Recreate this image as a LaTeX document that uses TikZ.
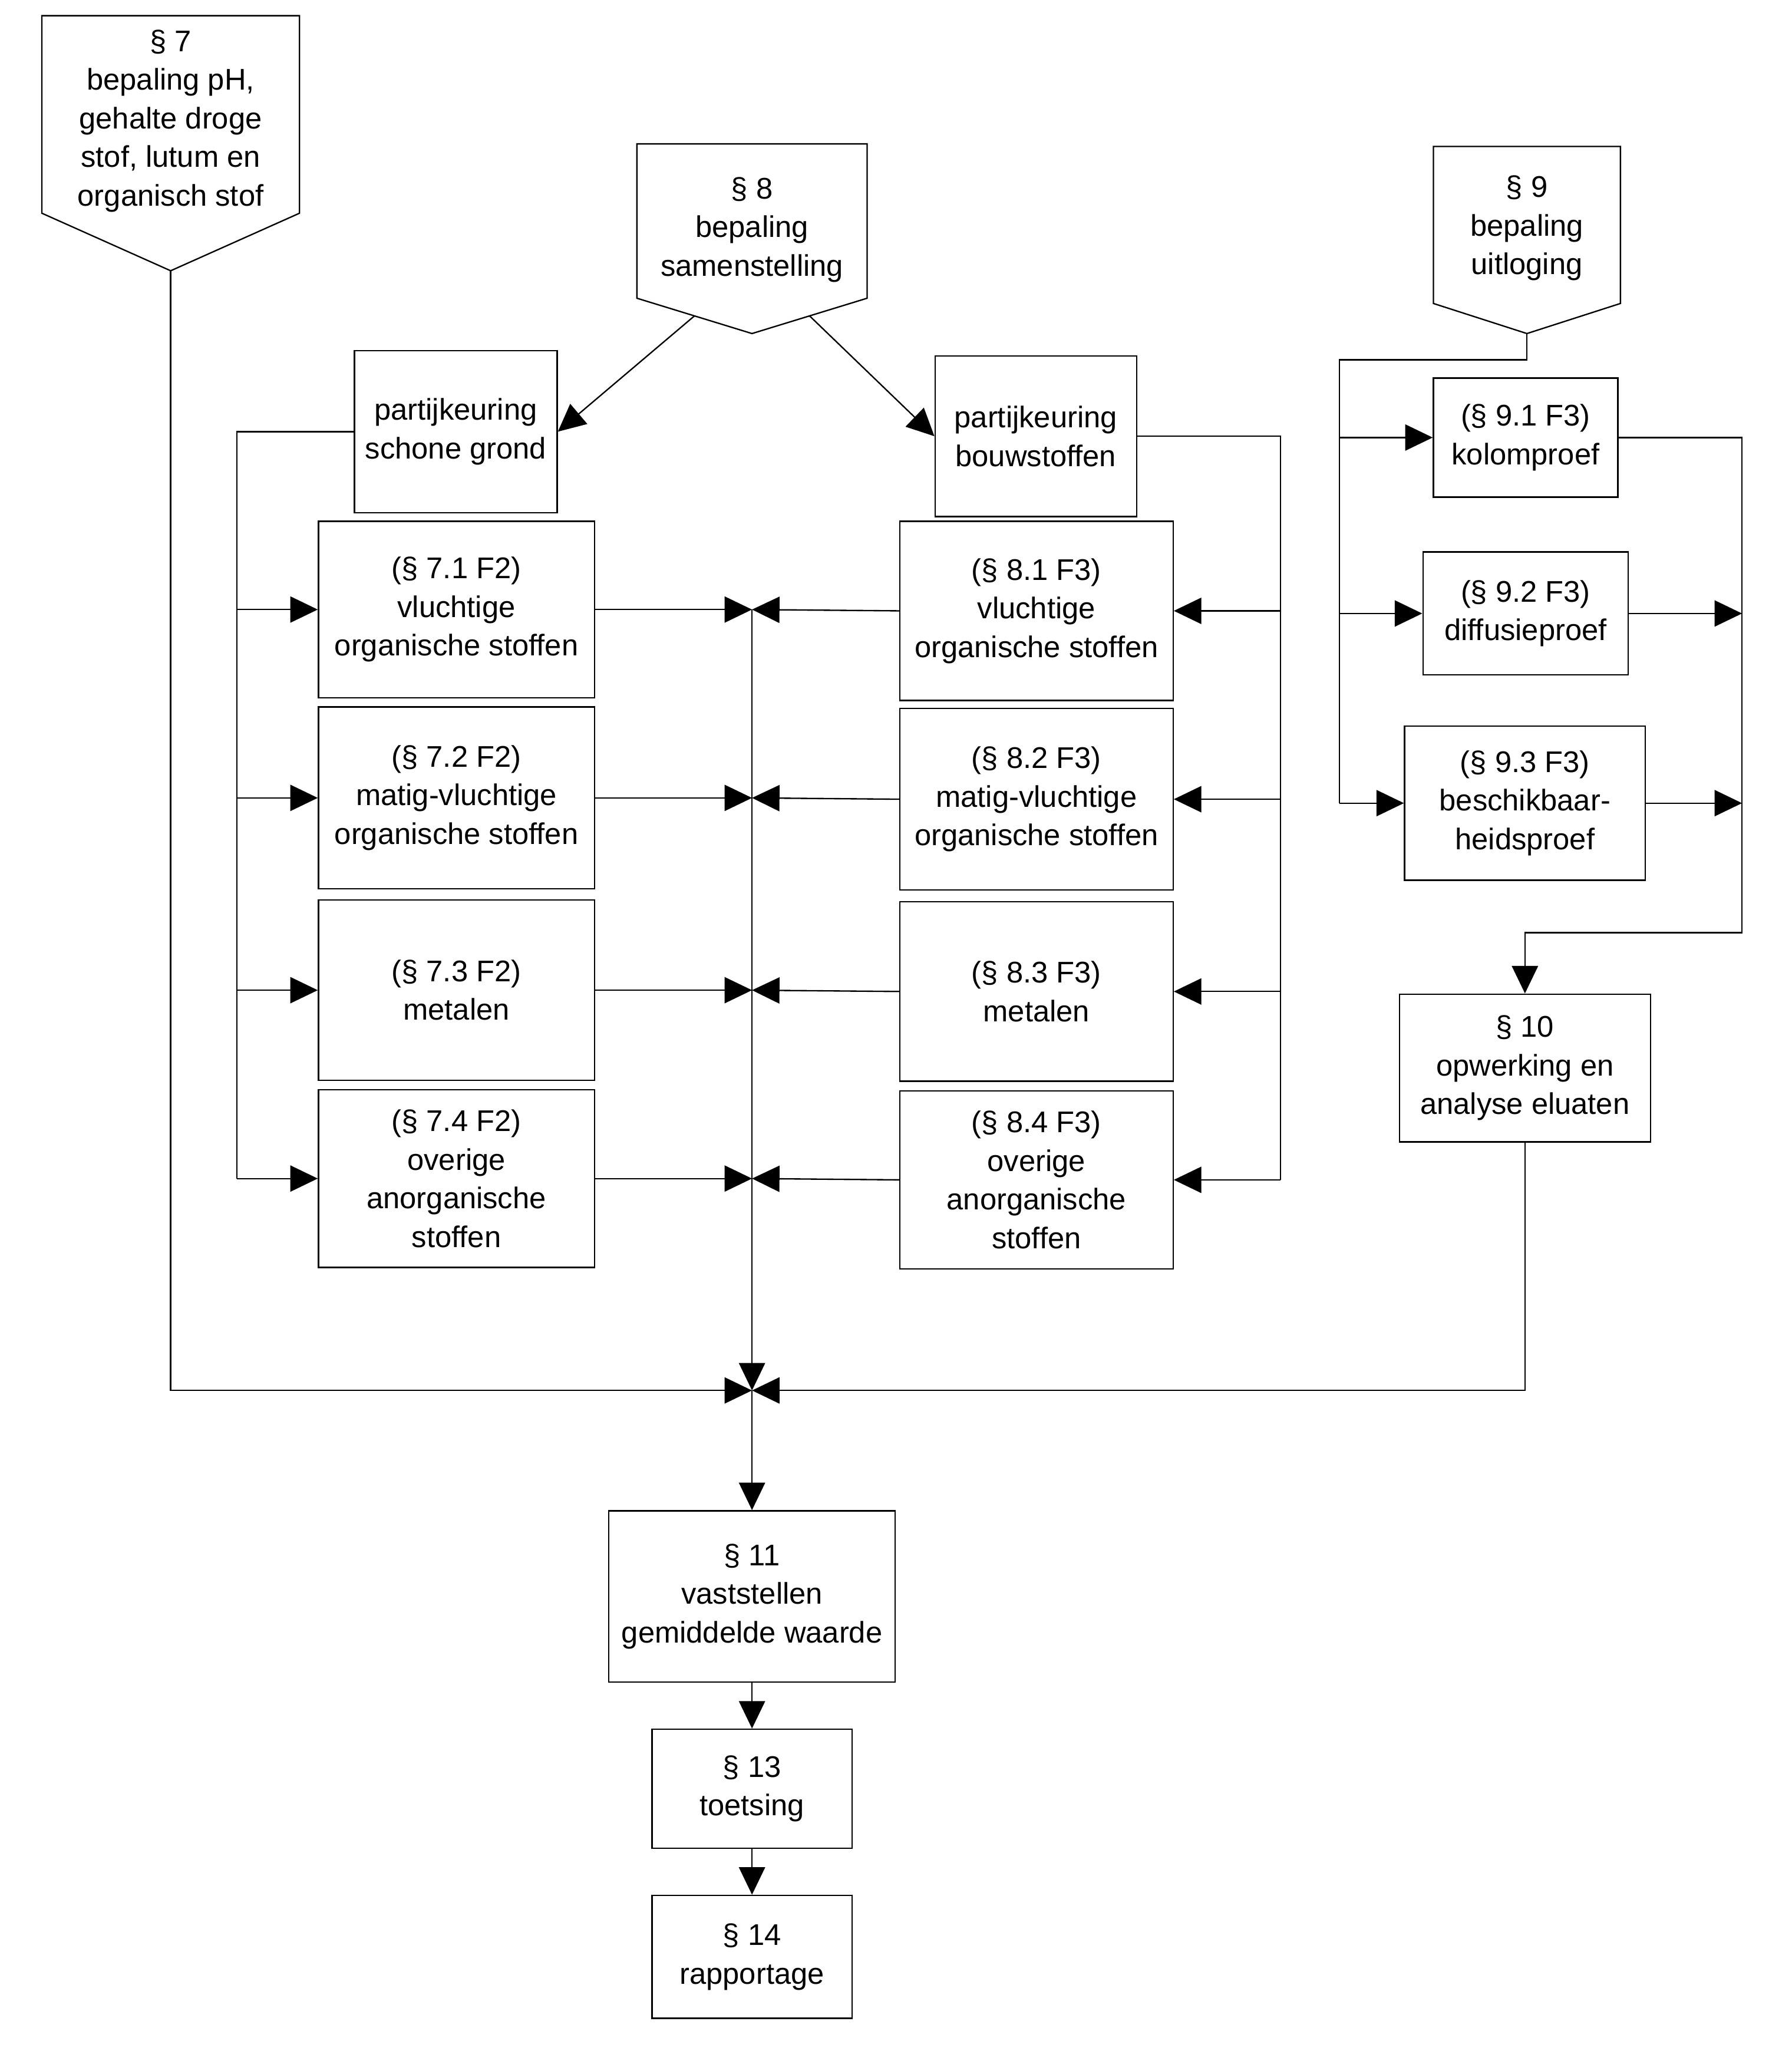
\documentclass[tikz,border=0pt]{standalone}
\usepackage{fontspec}
\setmainfont{Liberation Sans}
\usetikzlibrary{arrows.meta,calc}

\begin{document}
\begin{tikzpicture}[x=0.2mm, y=-0.2mm, line width=0.6pt,
    >={Triangle[length=4.2mm, width=4mm]},
    txt/.style={align=center, inner sep=0pt, font=\fontsize{13}{16.8}\selectfont},
    box/.style={txt, draw}]
    \useasboundingbox (0,0) rectangle (1370,1568);

    % Pentagons
    \coordinate (p7tip) at (130.5,207);
    \draw (32,12) -- (229,12) -- (229,163) -- (p7tip) -- (32,163) -- cycle;
    \node[txt] (p7) at (130.5,92.5) {§ 7\\bepaling pH,\\gehalte droge\\stof, lutum en\\organisch stof};

    \coordinate (p8tip) at (575,255);
    \coordinate (p8sw) at (487,228);
    \coordinate (p8se) at (663,228);
    \draw (487,110) -- (663,110) -- (p8se) -- (p8tip) -- (p8sw) -- cycle;
    \node[txt] (p8) at (575,175.5) {§ 8\\bepaling\\samenstelling};

    \coordinate (p9tip) at (1167.5,255);
    \draw (1096,112) -- (1239,112) -- (1239,232) -- (p9tip) -- (1096,232) -- cycle;
    \node[txt] (p9) at (1167.5,174.5) {§ 9\\bepaling\\uitloging};

    % Partijkeuring
    \node[box, minimum width=31mm, minimum height=24.8mm] (pks) at (348.5,330) {partijkeuring\\schone grond};
    \node[box, minimum width=30.8mm, minimum height=24.6mm] (pkb) at (792,333.5) {partijkeuring\\bouwstoffen};

    % Schone grond (left column)
    \node[box, minimum width=42.2mm, minimum height=27mm] (a71) at (349,466) {(§ 7.1 F2)\\vluchtige\\organische stoffen};
    \node[box, minimum width=42.2mm, minimum height=27.8mm] (a72) at (349,610) {(§ 7.2 F2)\\matig-vluchtige\\organische stoffen};
    \node[box, minimum width=42.2mm, minimum height=27.6mm] (a73) at (349,757) {(§ 7.3 F2)\\metalen};
    \node[box, minimum width=42.2mm, minimum height=27.2mm] (a74) at (349,901) {(§ 7.4 F2)\\overige\\anorganische\\stoffen};

    % Bouwstoffen (right column)
    \node[box, minimum width=41.8mm, minimum height=27.4mm] (b81) at (792.5,467) {(§ 8.1 F3)\\vluchtige\\organische stoffen};
    \node[box, minimum width=41.8mm, minimum height=27.8mm] (b82) at (792.5,611) {(§ 8.2 F3)\\matig-vluchtige\\organische stoffen};
    \node[box, minimum width=41.8mm, minimum height=27.4mm] (b83) at (792.5,758) {(§ 8.3 F3)\\metalen};
    \node[box, minimum width=41.8mm, minimum height=27.2mm] (b84) at (792.5,902) {(§ 8.4 F3)\\overige\\anorganische\\stoffen};

    % Uitloging
    \node[box, minimum width=28.2mm, minimum height=18.2mm] (k91) at (1166.5,334.5) {(§ 9.1 F3)\\kolomproef};
    \node[box, minimum width=31.4mm, minimum height=18.8mm] (k92) at (1166.5,469) {(§ 9.2 F3)\\diffusieproef};
    \node[box, minimum width=36.8mm, minimum height=23.6mm] (k93) at (1166,614) {(§ 9.3 F3)\\beschikbaar-\\heidsproef};
    \node[box, minimum width=38.4mm, minimum height=22.6mm] (p10) at (1166,816.5) {§ 10\\opwerking en\\analyse eluaten};

    % Bottom chain
    \node[box, minimum width=43.8mm, minimum height=26.2mm] (p11) at (575,1220.5) {§ 11\\vaststellen\\gemiddelde waarde};
    \node[box, minimum width=30.6mm, minimum height=18.2mm] (p13) at (575,1367.5) {§ 13\\toetsing};
    \node[box, minimum width=30.6mm, minimum height=18.8mm] (p14) at (575,1496) {§ 14\\rapportage};

    % Bus points
    \coordinate (merge) at (575,1063);
    \coordinate (lbus) at (181,330);
    \coordinate (rbus) at (979,333);
    \coordinate (lbus9) at (1024,275);
    \coordinate (rbus9) at (1332,713);

    % From § 8
    \draw[->] ($(p8sw)!0.5!(p8tip)$) -- (pks.east);
    \draw[->] ($(p8se)!0.5!(p8tip)$) -- (pkb.west);

    % Left bus
    \draw (pks.west) -| (a74.west -| lbus);
    \draw[->] (a71.west -| lbus) -- (a71.west);
    \draw[->] (a72.west -| lbus) -- (a72.west);
    \draw[->] (a73.west -| lbus) -- (a73.west);
    \draw[->] (a74.west -| lbus) -- (a74.west);

    % Right bus
    \draw (pkb.east) -| (b84.east -| rbus);
    \draw[->] (b81.east -| rbus) -- (b81.east);
    \draw[->] (b82.east -| rbus) -- (b82.east);
    \draw[->] (b83.east -| rbus) -- (b83.east);
    \draw[->] (b84.east -| rbus) -- (b84.east);

    % Bow ties
    \draw[->] (a71.east) -- (a71.east -| merge);
    \draw[->] (a72.east) -- (a72.east -| merge);
    \draw[->] (a73.east) -- (a73.east -| merge);
    \draw[->] (a74.east) -- (a74.east -| merge);
    \draw[->] (b81.west) -- (a71.east -| merge);
    \draw[->] (b82.west) -- (a72.east -| merge);
    \draw[->] (b83.west) -- (a73.east -| merge);
    \draw[->] (b84.west) -- (a74.east -| merge);
    \draw[->] (a71.east -| merge) -- (merge);

    % § 9 buses
    \draw (p9tip) |- (lbus9) -- (k93.west -| lbus9);
    \draw[->] (k91.west -| lbus9) -- (k91.west);
    \draw[->] (k92.west -| lbus9) -- (k92.west);
    \draw[->] (k93.west -| lbus9) -- (k93.west);
    \draw[->] (k91.east) -| (rbus9) -| (p10.north);
    \draw[->] (k92.east) -- (k92.east -| rbus9);
    \draw[->] (k93.east) -- (k93.east -| rbus9);

    % Merge
    \draw[->] (p7tip) |- (merge);
    \draw[->] (p10.south) |- (merge);
    \draw[->] (merge) -- (p11.north);
    \draw[->] (p11.south) -- (p13.north);
    \draw[->] (p13.south) -- (p14.north);
\end{tikzpicture}
\end{document}
